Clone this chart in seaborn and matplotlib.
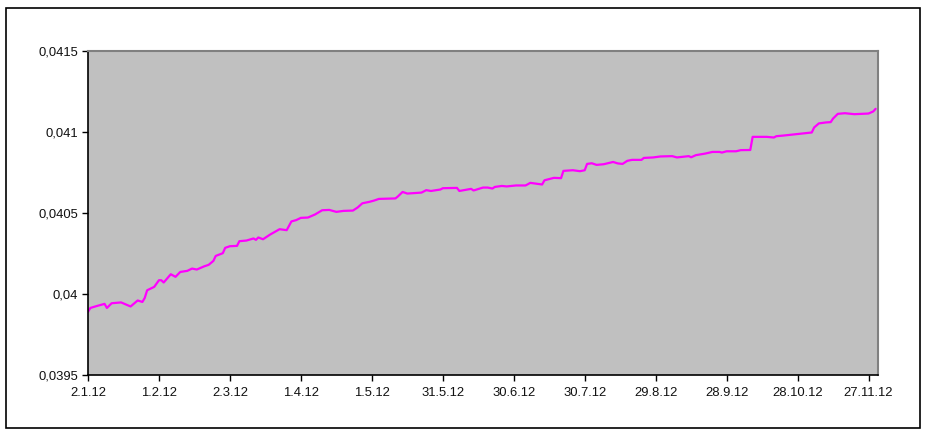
import pandas as pd
import matplotlib.pyplot as plt
import matplotlib.patches as mpatches
import seaborn as sns

# values (date, value)
dates = [
    '2012-01-02', '2012-01-03', '2012-01-06', '2012-01-09', '2012-01-10', '2012-01-12',
    '2012-01-16', '2012-01-20', '2012-01-23', '2012-01-25', '2012-01-26', '2012-01-27',
    '2012-01-30', '2012-02-01', '2012-02-02', '2012-02-03', '2012-02-06', '2012-02-08',
    '2012-02-10', '2012-02-13', '2012-02-15', '2012-02-17', '2012-02-20', '2012-02-22',
    '2012-02-24', '2012-02-25', '2012-02-28', '2012-02-29', '2012-03-02', '2012-03-05',
    '2012-03-06', '2012-03-09', '2012-03-12', '2012-03-13', '2012-03-14', '2012-03-16',
    '2012-03-19', '2012-03-23', '2012-03-26', '2012-03-28', '2012-03-30', '2012-04-01',
    '2012-04-04', '2012-04-07', '2012-04-10', '2012-04-13', '2012-04-16', '2012-04-19',
    '2012-04-23', '2012-04-25', '2012-04-27', '2012-04-30', '2012-05-02', '2012-05-04',
    '2012-05-11', '2012-05-12', '2012-05-14', '2012-05-16', '2012-05-22', '2012-05-24',
    '2012-05-26', '2012-05-30', '2012-05-31', '2012-06-06', '2012-06-07', '2012-06-12',
    '2012-06-13', '2012-06-17', '2012-06-19', '2012-06-21', '2012-06-22', '2012-06-25',
    '2012-06-27', '2012-07-01', '2012-07-05', '2012-07-07', '2012-07-08', '2012-07-12',
    '2012-07-13', '2012-07-17', '2012-07-20', '2012-07-21', '2012-07-25', '2012-07-28',
    '2012-07-30', '2012-07-31', '2012-08-02', '2012-08-04', '2012-08-07', '2012-08-11',
    '2012-08-13', '2012-08-15', '2012-08-17', '2012-08-19', '2012-08-23', '2012-08-24',
    '2012-08-28', '2012-08-31', '2012-09-05', '2012-09-07', '2012-09-12', '2012-09-13',
    '2012-09-15', '2012-09-19', '2012-09-22', '2012-09-25', '2012-09-26', '2012-09-28',
    '2012-10-02', '2012-10-04', '2012-10-08', '2012-10-09', '2012-10-15', '2012-10-18',
    '2012-10-19', '2012-10-22', '2012-10-27', '2012-10-31', '2012-11-03', '2012-11-04',
    '2012-11-06', '2012-11-09', '2012-11-11', '2012-11-12', '2012-11-14', '2012-11-17',
    '2012-11-21', '2012-11-24', '2012-11-27', '2012-11-29', '2012-11-30',
]
values = [
    0.039890, 0.039914, 0.039927, 0.039939, 0.039914, 0.039943,
    0.039948, 0.039923, 0.039960, 0.039951, 0.039976, 0.040023,
    0.040044, 0.040085, 0.040085, 0.040071, 0.040122, 0.040106,
    0.040136, 0.040143, 0.040157, 0.040151, 0.040170, 0.040180,
    0.040204, 0.040235, 0.040252, 0.040285, 0.040295, 0.040297,
    0.040326, 0.040330, 0.040343, 0.040334, 0.040349, 0.040338,
    0.040367, 0.040400, 0.040394, 0.040448, 0.040456, 0.040470,
    0.040472, 0.040491, 0.040517, 0.040519, 0.040507, 0.040513,
    0.040515, 0.040534, 0.040560, 0.040569, 0.040577, 0.040587,
    0.040590, 0.040602, 0.040630, 0.040620, 0.040626, 0.040641,
    0.040636, 0.040645, 0.040653, 0.040655, 0.040636, 0.040649,
    0.040639, 0.040657, 0.040657, 0.040651, 0.040661, 0.040667,
    0.040664, 0.040670, 0.040670, 0.040686, 0.040684, 0.040676,
    0.040702, 0.040717, 0.040715, 0.040760, 0.040764, 0.040758,
    0.040764, 0.040803, 0.040807, 0.040797, 0.040801, 0.040815,
    0.040806, 0.040803, 0.040822, 0.040828, 0.040828, 0.040840,
    0.040843, 0.040849, 0.040851, 0.040843, 0.040851, 0.040844,
    0.040857, 0.040867, 0.040877, 0.040877, 0.040873, 0.040881,
    0.040881, 0.040888, 0.040889, 0.040970, 0.040970, 0.040966,
    0.040974, 0.040978, 0.040986, 0.040993, 0.040997, 0.041028,
    0.041053, 0.041059, 0.041061, 0.041083, 0.041112, 0.041116,
    0.041110, 0.041112, 0.041114, 0.041127, 0.041143,
]

x_tick_dates = ['2012-01-02', '2012-02-01', '2012-03-02', '2012-04-01', '2012-05-01',
                '2012-05-31', '2012-06-30', '2012-07-30', '2012-08-29', '2012-09-28',
                '2012-10-28', '2012-11-27']
x_tick_labels = ['2.1.12', '1.2.12', '2.3.12', '1.4.12', '1.5.12', '31.5.12',
                 '30.6.12', '30.7.12', '29.8.12', '28.9.12', '28.10.12', '27.11.12']
y_ticks = [0.0395, 0.04, 0.0405, 0.041, 0.0415]
y_tick_labels = ['0,0395', '0,04', '0,0405', '0,041', '0,0415']

df = pd.DataFrame({'date': pd.to_datetime(dates), 'value': values})

sns.set_style('white')
plt.rcParams['font.family'] = ['Liberation Sans', 'DejaVu Sans']

fig = plt.figure(figsize=(9.26, 4.32), dpi=100)
W, H = 926, 432
ax = fig.add_axes([88 / W, 1 - 375 / H, (878 - 88) / W, (375 - 51) / H])
ax.set_facecolor('#c0c0c0')

sns.lineplot(data=df, x='date', y='value', color='#ff00ff', linewidth=1.6, ax=ax)

ax.set_xlim(pd.Timestamp('2012-01-02'), pd.Timestamp('2012-12-01'))
ax.set_ylim(0.0395, 0.0415)
ax.set_xticks(pd.to_datetime(x_tick_dates))
ax.set_xticklabels(x_tick_labels)
ax.set_yticks(y_ticks)
ax.set_yticklabels(y_tick_labels)
ax.tick_params(axis='both', which='major', bottom=True, left=True, direction='out',
               length=4, width=1, color='black', labelsize=9.4, labelcolor='#111111', pad=3)
ax.tick_params(axis='x', pad=5)
ax.set_xlabel('')
ax.set_ylabel('')

for side in ['top', 'right']:
    ax.spines[side].set_color('#808080')
    ax.spines[side].set_linewidth(1.5)
for side in ['left', 'bottom']:
    ax.spines[side].set_color('black')
    ax.spines[side].set_linewidth(1.2)

# outer chart border
fig.patches.append(mpatches.Rectangle((6 / W, 1 - 428 / H), (920 - 6) / W, (428 - 8) / H,
                                      transform=fig.transFigure, fill=False,
                                      edgecolor='black', linewidth=1.2))

fig.savefig('out.png', dpi=100)
plt.close(fig)
